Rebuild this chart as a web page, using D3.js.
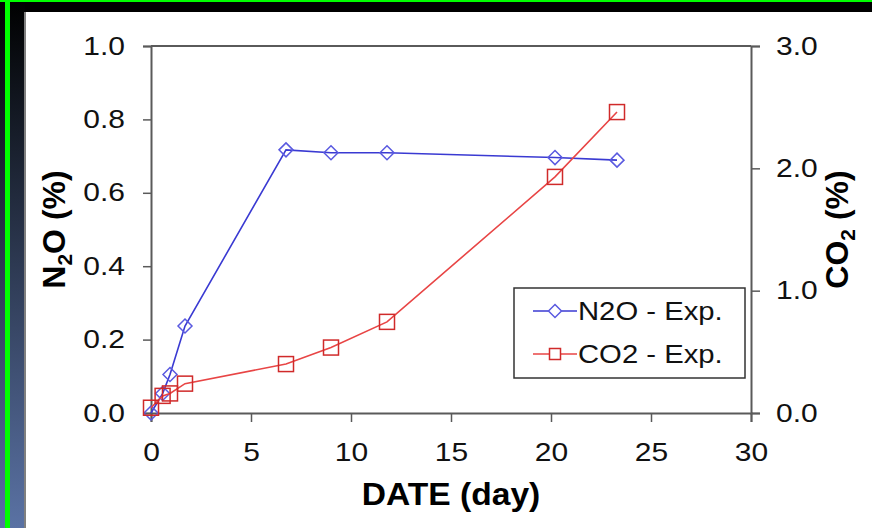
<!DOCTYPE html>
<html>
<head>
<meta charset="utf-8">
<script src="https://cdn.jsdelivr.net/npm/d3@7"></script>
<style>
  html, body { margin: 0; padding: 0; background: #000; }
  svg { display: block; font-family: "Liberation Sans", Arial, sans-serif; }
</style>
</head>
<body>
<div id="chart"></div>
<script>
// 时间 (day)
const days = [0, 0.58, 0.95, 1.7, 6.75, 9.0, 11.8, 20.2, 23.3]
// N2O (%) 左轴
const n2oValues = [0.0, 0.053, 0.105, 0.237, 0.717, 0.709, 0.709, 0.696, 0.689]
// CO2 (%) 右轴
const co2Values = [0.043, 0.14, 0.16, 0.24, 0.40, 0.535, 0.745, 1.93, 2.46]
const xTicks = [0, 5, 10, 15, 20, 25, 30]
const leftTicks = [0, 0.2, 0.4, 0.6, 0.8, 1.0]
const rightTicks = [0, 1, 2, 3]
const legendNames = ["N2O - Exp.", "CO2 - Exp."]

const W = 872, H = 528
const margin = { left: 151, right: 121, top: 46, bottom: 115 }

const svg = d3.select("#chart").append("svg").attr("width", W).attr("height", H)

// 文字横向拉宽，原图字体比较宽
function stretch(sel, k) {
  sel.each(function () {
    const len = this.getComputedTextLength()
    d3.select(this).attr("textLength", len * k).attr("lengthAdjust", "spacingAndGlyphs")
  })
}

// 背景：黑色顶部 + 左侧渐变条 + 绿色线
const defs = svg.append("defs")
const grad = defs.append("linearGradient").attr("id", "sideGrad")
  .attr("x1", 0).attr("y1", 0).attr("x2", 0).attr("y2", 1)
grad.append("stop").attr("offset", "0%").attr("stop-color", "#000000")
grad.append("stop").attr("offset", "100%").attr("stop-color", "#5a72a4")

svg.append("rect").attr("width", W).attr("height", H).attr("fill", "#000")
svg.append("rect").attr("x", 0).attr("y", 0).attr("width", 25).attr("height", H).attr("fill", "url(#sideGrad)")
svg.append("rect").attr("x", 25).attr("y", 12).attr("width", W - 25).attr("height", H - 12).attr("fill", "#fff")
svg.append("rect").attr("x", 24).attr("y", 12).attr("width", 2).attr("height", H - 12).attr("fill", "#808080")
svg.append("rect").attr("x", 0).attr("y", 0).attr("width", W).attr("height", 2).attr("fill", "#00ff00")
svg.append("rect").attr("x", 5).attr("y", 0).attr("width", 5).attr("height", H).attr("fill", "#00ff00")

const x = d3.scaleLinear().domain([0, 30]).range([margin.left, W - margin.right])
const yL = d3.scaleLinear().domain([0, 1]).range([H - margin.bottom, margin.top])
const yR = d3.scaleLinear().domain([0, 3]).range([H - margin.bottom, margin.top])

const axisColor = "#5a5a5a"
function styleAxis(g) {
  g.select(".domain").attr("stroke", axisColor).attr("stroke-width", 2)
  g.selectAll(".tick line").attr("stroke", axisColor).attr("stroke-width", 1.5)
  g.selectAll(".tick text").attr("fill", "#111").style("font-size", "25px")
    .style("font-family", "'Liberation Sans', Arial, sans-serif")
  stretch(g.selectAll(".tick text"), 1.2)
}

// 顶部框线
svg.append("line")
  .attr("x1", x(0)).attr("x2", x(30)).attr("y1", yL(1)).attr("y2", yL(1))
  .attr("stroke", axisColor).attr("stroke-width", 2)

svg.append("g").attr("transform", `translate(0,${yL(0)})`)
  .call(d3.axisBottom(x).tickValues(xTicks).tickFormat(d3.format("d")).tickSizeOuter(0).tickSize(9).tickPadding(21))
  .call(styleAxis)

svg.append("g").attr("transform", `translate(${x(0)},0)`)
  .call(d3.axisLeft(yL).tickValues(leftTicks).tickFormat(d3.format(".1f")).tickSizeOuter(0).tickSize(8).tickPadding(18))
  .call(styleAxis)

svg.append("g").attr("transform", `translate(${x(30)},0)`)
  .call(d3.axisRight(yR).tickValues(rightTicks).tickFormat(d3.format(".1f")).tickSizeOuter(0).tickSize(9).tickPadding(16))
  .call(styleAxis)

// 轴标题
const xTitle = svg.append("text")
  .attr("x", (x(0) + x(30)) / 2).attr("y", 505)
  .attr("text-anchor", "middle").attr("fill", "#000")
  .style("font-size", "32px").style("font-weight", "bold")
  .text("DATE (day)")
stretch(xTitle, 1.05)

function rotTitle(cx, cy, a, b) {
  const t = svg.append("text")
    .attr("transform", `translate(${cx},${cy}) rotate(-90)`)
    .attr("text-anchor", "middle").attr("fill", "#000")
    .style("font-size", "32px").style("font-weight", "bold")
  t.append("tspan").text(a)
  t.append("tspan").attr("dy", 7).style("font-size", "21px").text("2")
  t.append("tspan").attr("dy", -7).text(b)
}
rotTitle(65, yL(0.5), "N", "O (%)")
rotTitle(848, yL(0.5), "CO", " (%)")

const n2oColor = "#3a3ad2", n2oMark = "#5a5ae0"
const co2Color = "#e84545", co2Mark = "#d02a2a"

const n2oData = days.map((d, i) => ({ d: d, v: n2oValues[i] }))
const co2Data = days.map((d, i) => ({ d: d, v: co2Values[i] }))

// N2O 折线
svg.append("path").datum(n2oData)
  .attr("fill", "none").attr("stroke", n2oColor).attr("stroke-width", 1.6)
  .attr("d", d3.line().x(p => x(p.d)).y(p => yL(p.v)))
svg.append("g").selectAll("path").data(n2oData).enter().append("path")
  .attr("transform", p => `translate(${x(p.d)},${yL(p.v)})`)
  .attr("d", "M0,-7L7,0L0,7L-7,0Z")
  .attr("fill", "none").attr("stroke", n2oMark).attr("stroke-width", 1.5)

// CO2 折线
svg.append("path").datum(co2Data)
  .attr("fill", "none").attr("stroke", co2Color).attr("stroke-width", 1.6)
  .attr("d", d3.line().x(p => x(p.d)).y(p => yR(p.v)))
svg.append("g").selectAll("rect").data(co2Data).enter().append("rect")
  .attr("x", p => x(p.d) - 7.5).attr("y", p => yR(p.v) - 7.5)
  .attr("width", 15).attr("height", 15)
  .attr("fill", "none").attr("stroke", co2Mark).attr("stroke-width", 1.5)

// 图例
const lg = svg.append("g")
lg.append("rect").attr("x", 514).attr("y", 288).attr("width", 231).attr("height", 90)
  .attr("fill", "#fff").attr("stroke", "#333").attr("stroke-width", 1.5)
const rows = [311, 354]
rows.forEach((ry, i) => {
  lg.append("line").attr("x1", 533).attr("x2", 577).attr("y1", ry).attr("y2", ry)
    .attr("stroke", i === 0 ? n2oColor : co2Color).attr("stroke-width", 1.6)
  if (i === 0) {
    lg.append("path").attr("transform", `translate(555,${ry})`)
      .attr("d", "M0,-6.5L6.5,0L0,6.5L-6.5,0Z")
      .attr("fill", "#fff").attr("stroke", n2oMark).attr("stroke-width", 1.5)
  } else {
    lg.append("rect").attr("x", 549.5).attr("y", ry - 5.5).attr("width", 11).attr("height", 11)
      .attr("fill", "#fff").attr("stroke", co2Mark).attr("stroke-width", 1.5)
  }
  const t = lg.append("text").attr("x", 578).attr("y", ry).attr("dy", "0.35em")
    .attr("fill", "#111").style("font-size", "25px").text(legendNames[i])
  stretch(t, 1.17)
})
</script>
</body>
</html>
